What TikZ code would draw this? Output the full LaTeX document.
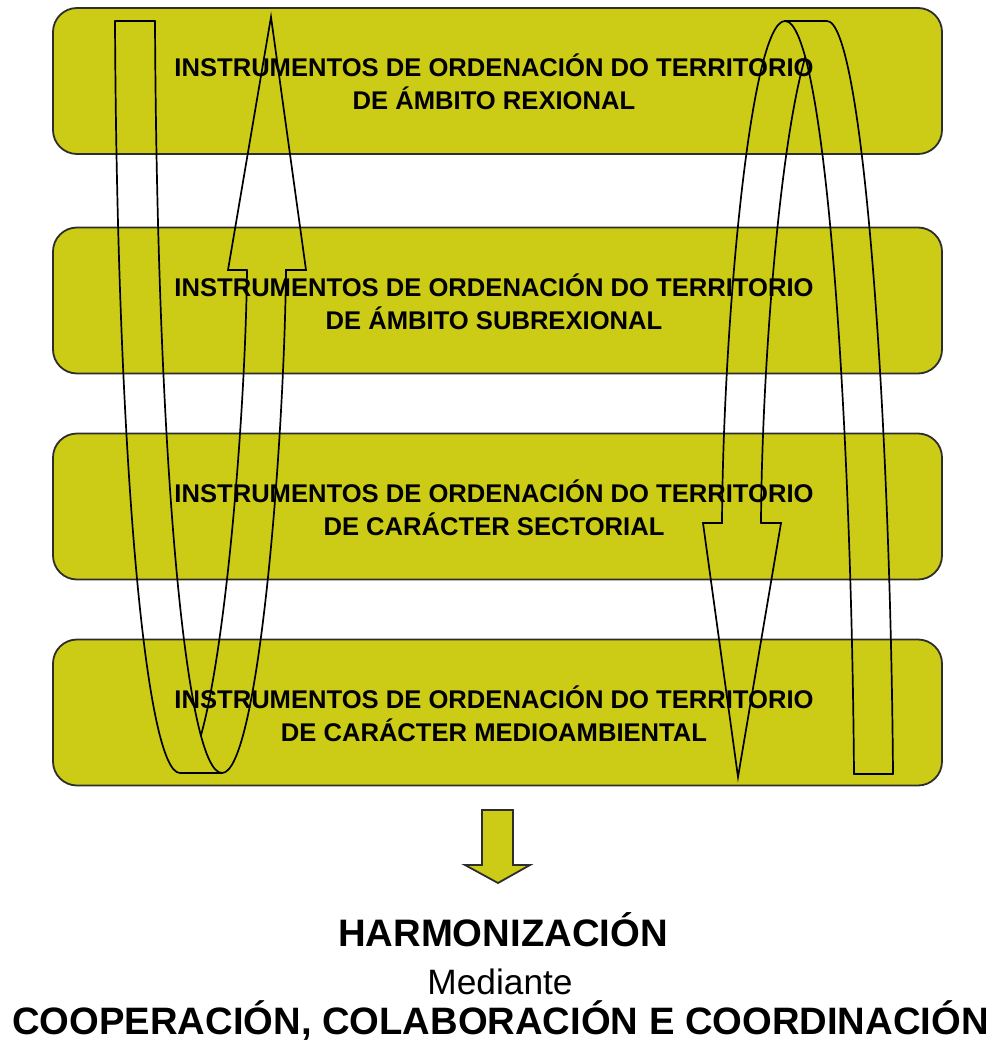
\documentclass[tikz,border=0pt]{standalone}
\usepackage{fontspec}
\setmainfont{Liberation Sans}
\usetikzlibrary{intersections}
\definecolor{boxyellow}{RGB}{204,204,22}
\definecolor{edgegray}{RGB}{45,45,45}
\begin{document}
\begin{tikzpicture}[x=1pt,y=-1pt,
  stagebox/.style={draw=edgegray, line width=1.8pt, fill=boxyellow, rounded corners=24pt,
    minimum width=889pt, minimum height=146pt, inner sep=0pt},
  stagetext/.style={font=\bfseries\fontsize{25.6}{33}\selectfont, align=center, inner sep=0pt},
  loopline/.style={draw=black, line width=1.7pt, line cap=round, line join=miter},
  bigbold/.style={font=\bfseries\fontsize{38.3}{40}\selectfont, anchor=base, inner sep=0pt},
  widebold/.style={font=\bfseries\fontsize{38.2}{40}\selectfont, anchor=base, inner sep=0pt},
  midtext/.style={font=\fontsize{35.3}{40}\selectfont, anchor=base, inner sep=0pt}
]
\useasboundingbox (0,0) rectangle (1000,1043);

% boxes
\node[stagebox] (b1) at (497.5,81) {};
\node[stagebox] (b2) at (497.5,300.5) {};
\node[stagebox] (b3) at (497.5,506.5) {};
\node[stagebox] (b4) at (497.5,712.5) {};

\node[stagetext] (t1) at (494,82) {INSTRUMENTOS DE ORDENACIÓN DO TERRITORIO\\DE ÁMBITO REXIONAL};
\node[stagetext] (t2) at (494,301.5) {INSTRUMENTOS DE ORDENACIÓN DO TERRITORIO\\DE ÁMBITO SUBREXIONAL};
\node[stagetext] (t3) at (494,507.5) {INSTRUMENTOS DE ORDENACIÓN DO TERRITORIO\\DE CARÁCTER SECTORIAL};
\node[stagetext] (t4) at (494,713.5) {INSTRUMENTOS DE ORDENACIÓN DO TERRITORIO\\DE CARÁCTER MEDIOAMBIENTAL};

% left U-turn arrow (down then up)
\draw[loopline] (115,21) -- (155,21);
\draw[loopline] (115,21) .. controls (117,450) and (145,773) .. (180,773) -- (222,773)
  .. controls (258,773) and (284,450) .. (286,270) -- (306,270) -- (271,17) -- (228,270) -- (247,270);
\draw[loopline, name path=LTR] (155,21) .. controls (157,450) and (185,773) .. (222,773);
\path[name path=LSL] (247,270) .. controls (245,450) and (215,773) .. (180,773);
\path[name intersections={of=LTR and LSL, by=LX}];
\begin{scope}
  \clip (0,0) rectangle (500,0 |- LX);
  \draw[loopline] (247,270) .. controls (245,450) and (215,773) .. (180,773);
\end{scope}

% right U-turn arrow (up then down)
\draw[loopline] (854,774) -- (893,774);
\draw[loopline] (893,774) .. controls (890,400) and (862,21) .. (827,21) -- (785,21)
  .. controls (750,21) and (723,330) .. (722,523) -- (703,523) -- (738,777) -- (781,523) -- (761,523);
\draw[loopline, name path=RTL] (854,774) .. controls (851,400) and (824,21) .. (785,21);
\path[name path=RSR] (761,523) .. controls (762,330) and (790,21) .. (827,21);
\path[name intersections={of=RTL and RSR, by=RX}];
\begin{scope}
  \clip (500,0 |- RX) rectangle (1000,1043);
  \draw[loopline] (761,523) .. controls (762,330) and (790,21) .. (827,21);
\end{scope}

% down arrow
\draw[draw=edgegray, line width=1.8pt, fill=boxyellow, line join=miter]
  (482,810) -- (513,810) -- (513,865) -- (530,865) -- (498,883) -- (465,865) -- (482,865) -- cycle;

% bottom text
\node[bigbold] (harm) at (503,946) {HARMONIZACIÓN};
\node[midtext] (med) at (500,994) {Mediante};
\node[widebold] (coop) at (500.5,1034) {COOPERACIÓN, COLABORACIÓN E COORDINACIÓN};
\end{tikzpicture}
\end{document}
